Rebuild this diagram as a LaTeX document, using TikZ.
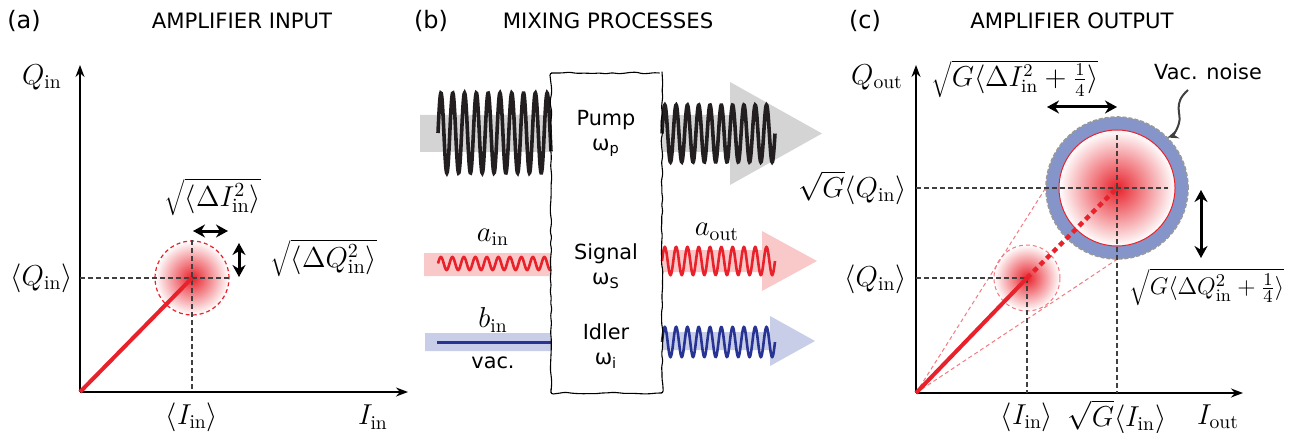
\documentclass[tikz,border=0pt]{standalone}
\usepackage{fontspec}
\setsansfont{DejaVu Sans}
\usetikzlibrary{arrows.meta,decorations.pathmorphing}

\definecolor{blobred}{RGB}{232,33,43}
\definecolor{ringblue}{RGB}{134,149,201}
\definecolor{pumpgray}{RGB}{212,212,212}
\definecolor{sigpink}{RGB}{249,201,202}
\definecolor{idlav}{RGB}{201,206,232}
\definecolor{idblue}{RGB}{40,52,148}
\definecolor{springblack}{RGB}{35,31,32}
\definecolor{guide}{RGB}{64,64,64}

% colour, x start, x base, x tip, y centre, bar half, head half
\newcommand{\FatArrow}[7]{%
  \fill[#1] (#2,#5-#6) -- (#3,#5-#6) -- (#3,#5-#7) -- (#4,#5)
    -- (#3,#5+#7) -- (#3,#5+#6) -- (#2,#5+#6) -- cycle;
}
% colour, width, x from, x to, y centre, amplitude, period
\newcommand{\Spring}[7]{%
  \draw[#1, line width=#2, domain=#3:#4, samples=320]
    plot (\x, {#5-#6*sin((\x-#3)/#7*360)});
}

\tikzset{
  ax/.style={line width=0.75pt, -{Stealth[length=6pt,width=4.5pt]}},
  guideline/.style={guide, line width=0.75pt, dash pattern=on 2.4pt off 1.6pt},
  dbl/.style={line width=1.5pt, {Stealth[length=6pt,width=6.5pt]}-{Stealth[length=6pt,width=6.5pt]}},
  lbl/.style={font=\fontsize{14}{16}\selectfont, inner sep=0pt},
  ttl/.style={font=\sffamily\fontsize{10.6}{12}\selectfont, inner sep=0pt},
  tag/.style={font=\sffamily\fontsize{12}{14}\selectfont, inner sep=0pt},
  txt/.style={font=\sffamily\fontsize{10.4}{12.5}\selectfont, inner sep=0pt, align=center},
  meanline/.style={blobred, line width=2pt},
  blob/.style={circle, inner sep=0pt, minimum size=#1, inner color=blobred, outer color=white},
}

\begin{document}
\begin{tikzpicture}[x=0.5pt, y=-0.5pt]
  \useasboundingbox (0,0) rectangle (1296,433);

  % titles
  \node[tag] (tagA) at (24,21) {(a)};
  \node[ttl] (titleA) at (242,21) {AMPLIFIER INPUT};
  \node[tag] (tagB) at (431,21) {(b)};
  \node[ttl] (titleB) at (608,21) {MIXING PROCESSES};
  \node[tag] (tagC) at (865,21) {(c)};
  \node[ttl] (titleC) at (1072,21) {AMPLIFIER OUTPUT};

  %% (a) input
  \coordinate (oA) at (80,392);
  \coordinate (yA) at (80,65);
  \coordinate (xA) at (408,392);
  \draw[ax] (oA) -- (yA);
  \draw[ax] (oA) -- (xA);
  \node[blob=37pt, draw=blobred, line width=0.6pt, dash pattern=on 2pt off 1.5pt] (blobA) at (192,278) {};
  \draw[guideline] (blobA.north) -- (blobA.north |- oA);
  \draw[guideline] (blobA.center -| oA) -- (blobA.east);
  \draw[meanline] (oA) -- (blobA.center);
  \draw[dbl] (193,231) -- (228,231);
  \draw[dbl] (239,243) -- (239,277);
  \node[lbl] (QinA) at (42,77) {$Q_{\mathrm{in}}$};
  \node[lbl] (IinA) at (373,417) {$I_{\mathrm{in}}$};
  \node[lbl, anchor=east] (mQA) at (73,278) {$\langle Q_{\mathrm{in}}\rangle$};
  \node[lbl] (mIA) at (192,417) {$\langle I_{\mathrm{in}}\rangle$};
  \node[lbl, font=\fontsize{14.5}{16}\selectfont] (dIA) at (213,197) {$\sqrt{\langle\Delta I_{\mathrm{in}}^2\rangle}$};
  \node[lbl, font=\fontsize{14.5}{16}\selectfont] (dQA) at (324,258) {$\sqrt{\langle\Delta Q_{\mathrm{in}}^2\rangle}$};

  %% (b) mixing
  \FatArrow{pumpgray}{420}{551}{551}{133.5}{18.5}{18.5}
  \FatArrow{pumpgray}{662}{730}{822}{133.5}{18.5}{51.5}
  \FatArrow{sigpink}{424}{551}{551}{264.5}{11.5}{11.5}
  \FatArrow{sigpink}{662}{762}{817}{261}{11}{30}
  \FatArrow{idlav}{425}{551}{551}{342}{9}{9}
  \FatArrow{idlav}{662}{770}{815}{341}{9}{25}
  \Spring{springblack}{1.8pt}{438}{551}{133}{40}{11.8}
  \Spring{springblack}{1.8pt}{662}{775}{133.5}{28.5}{11.3}
  \Spring{blobred}{1.3pt}{438}{551}{263.5}{6.5}{11.5}
  \Spring{blobred}{1.3pt}{662}{775}{261}{14}{11.3}
  \Spring{idblue}{1.3pt}{662}{775}{342}{15}{11.3}
  \draw[idblue, line width=1.5pt] (437,342) -- (551,342);
  \node[draw, line width=0.55pt, rounded corners=1.2pt, decorate,
    decoration={random steps, segment length=3pt, amplitude=0.45pt},
    minimum width=55.5pt, minimum height=160pt, inner sep=0pt] (mixer) at (606.5,233) {};
  \node[txt] (pump) at (606,133) {Pump\\ω\textsubscript{p}};
  \node[txt] (signal) at (606,266) {Signal\\ω\textsubscript{S}};
  \node[txt] (idler) at (606,346) {Idler\\ω\textsubscript{i}};
  \node[lbl] (ain) at (493,237) {$a_{\mathrm{in}}$};
  \node[lbl] (aout) at (717,232) {$a_{\mathrm{out}}$};
  \node[lbl] (bin) at (493,320) {$b_{\mathrm{in}}$};
  \node[txt] (vac) at (493,363) {vac.};

  %% (c) output
  \coordinate (oC) at (916,393);
  \coordinate (yC) at (916,65);
  \coordinate (xC) at (1243,393);
  \draw[ax] (oC) -- (yC);
  \draw[ax] (oC) -- (xC);
  \node[blob=33pt, draw=blobred!60, line width=0.5pt, dash pattern=on 2pt off 1.5pt] (blobS) at (1027,278) {};
  \node[circle, inner sep=0pt, minimum size=71pt] (ringB) at (1117,188) {};
  \draw[blobred!60, line width=0.5pt, dash pattern=on 2pt off 1.5pt] (oC) -- (ringB.west);
  \draw[blobred!60, line width=0.5pt, dash pattern=on 2pt off 1.5pt] (oC) -- (ringB.south);
  \node[circle, inner sep=0pt, minimum size=71pt, fill=ringblue, draw=gray!80, line width=0.8pt,
    dash pattern=on 2pt off 1pt] at (ringB) {};
  \node[blob=58pt, draw=blobred, line width=0.5pt] (blobB) at (1117,188) {};
  \draw[guideline] (blobS.center -| oC) -- (blobS.center);
  \draw[guideline] (blobS.center) -- (blobS.center |- oC);
  \draw[guideline] (blobB.center -| oC) -- (1168,188);
  \draw[guideline] (1117,135) -- (blobB.center |- oC);
  \draw[meanline] (oC) -- (blobS.center);
  \draw[meanline, line width=2.2pt, dash pattern=on 2.6pt off 2pt] (blobS.center) -- (blobB.center);
  \draw[dbl] (1047,107) -- (1117,107);
  \draw[dbl] (1201,190) -- (1201,258);
  \node[lbl] (QoutC) at (877,77) {$Q_{\mathrm{out}}$};
  \node[lbl] (IoutC) at (1218,417) {$I_{\mathrm{out}}$};
  \node[lbl, anchor=east] (mQC) at (907,279) {$\langle Q_{\mathrm{in}}\rangle$};
  \node[lbl, anchor=east] (gQC) at (907,188) {$\sqrt{G}\langle Q_{\mathrm{in}}\rangle$};
  \node[lbl] (mIC) at (1027,417) {$\langle I_{\mathrm{in}}\rangle$};
  \node[lbl] (gIC) at (1117,417) {$\sqrt{G}\langle I_{\mathrm{in}}\rangle$};
  \node[lbl, font=\fontsize{13.4}{15}\selectfont] (dIC) at (1015,79) {$\sqrt{G\langle\Delta I_{\mathrm{in}}^2+\frac{1}{4}\rangle}$};
  \node[lbl, font=\fontsize{12.6}{15}\selectfont] (dQC) at (1207,287) {$\sqrt{G\langle\Delta Q_{\mathrm{in}}^2+\frac{1}{4}\rangle}$};
  \node[txt] (noise) at (1208,72) {Vac. noise};
  \draw[guide, line width=1pt, -{Stealth[length=5.5pt,width=4.5pt]}]
    (1188,90) .. controls (1172,104) and (1182,114) .. (1179,123)
    .. controls (1177,131) and (1172,136) .. (ringB.45);
\end{tikzpicture}
\end{document}
